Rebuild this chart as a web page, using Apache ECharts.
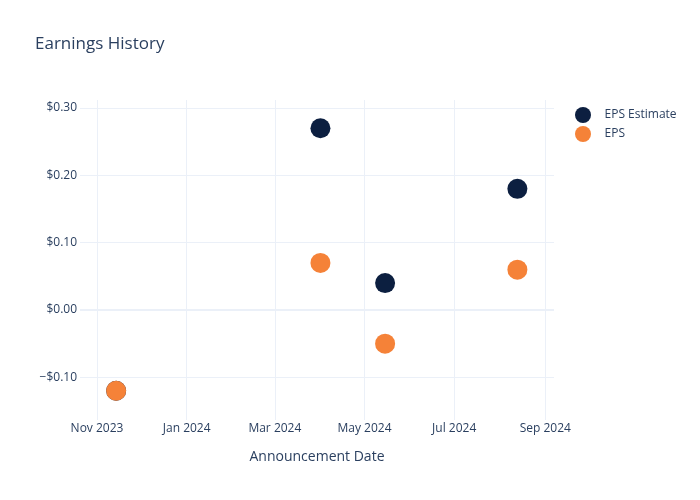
<!DOCTYPE html>
<html>
<head>
<meta charset="utf-8">
<script src="https://cdn.jsdelivr.net/npm/echarts@6/dist/echarts.min.js"></script>
<style>html,body{margin:0;padding:0;background:#fff}#c{width:700px;height:500px}</style>
</head>
<body>
<div id="c"></div>
<script>
var dates = ['2023-11-14', '2024-04-01', '2024-05-15', '2024-08-13'];
var epsEstimate = [-0.12, 0.27, 0.04, 0.18];
var epsActual = [-0.12, 0.07, -0.05, 0.06];
var xTickLabels = ['2023-11-01', '2024-01-01', '2024-03-01', '2024-05-01', '2024-07-01', '2024-09-01'];
var yTickLabels = [-0.1, 0, 0.1, 0.2, 0.3];
var xRange = ['2023-10-20T10:00', '2024-09-06T22:00'];
var yRange = [-0.1634, 0.312];

var MONTHS = ['Jan','Feb','Mar','Apr','May','Jun','Jul','Aug','Sep','Oct','Nov','Dec'];
function ts(s) { return new Date(s + (s.length === 10 ? 'T00:00:00' : '')).getTime(); }
var font = '"Open Sans", verdana, arial, sans-serif';
var textColor = '#2a3f5f';
var gridColor = '#EBF0F8';

var chart = echarts.init(document.getElementById('c'));
chart.setOption({
  animation: false,
  backgroundColor: '#fff',
  title: {
    text: 'Earnings History', left: 30, top: 31,
    textStyle: { fontFamily: font, fontSize: 17, fontWeight: 'normal', color: textColor }
  },
  legend: {
    orient: 'vertical', left: 570, top: 102, itemWidth: 21, itemHeight: 16, itemGap: 3,
    icon: 'circle',
    textStyle: { fontFamily: font, fontSize: 12, color: textColor, padding: [0, 0, 0, 6] },
    data: ['EPS Estimate', 'EPS']
  },
  grid: { left: 80, right: 146, top: 100, bottom: 80 },
  xAxis: {
    type: 'value',
    min: ts(xRange[0]), max: ts(xRange[1]),
    name: 'Announcement Date', nameLocation: 'middle', nameGap: 30,
    nameTextStyle: { fontFamily: font, fontSize: 14, color: textColor },
    axisLine: { show: false },
    axisTick: { show: false, customValues: xTickLabels.map(ts) },
    axisLabel: {
      customValues: xTickLabels.map(ts), margin: 3,
      fontFamily: font, fontSize: 12, color: textColor,
      formatter: function (v) { var d = new Date(v); return MONTHS[d.getMonth()] + ' ' + d.getFullYear(); }
    },
    splitLine: { show: true, lineStyle: { color: gridColor, width: 1 } }
  },
  yAxis: {
    type: 'value', min: yRange[0], max: yRange[1],
    axisLine: { show: false },
    axisTick: { show: false, customValues: yTickLabels },
    axisLabel: {
      customValues: yTickLabels, margin: 3,
      fontFamily: font, fontSize: 12, color: textColor,
      formatter: function (v) { return (v < 0 ? '\u2212$' : '$') + Math.abs(v).toFixed(2); }
    },
    splitLine: { show: true, lineStyle: { color: gridColor, width: 1 } }
  },
  series: [
    {
      name: 'EPS Estimate', type: 'scatter', symbolSize: 20,
      itemStyle: { color: '#0C1F40', opacity: 1 },
      data: dates.map(function (d, i) { return [ts(d), epsEstimate[i]]; }),
      markLine: {
        silent: true, symbol: 'none', label: { show: false },
        lineStyle: { color: gridColor, width: 2, type: 'solid' },
        data: [{ yAxis: 0 }], z: 0
      }
    },
    {
      name: 'EPS', type: 'scatter', symbolSize: 20,
      itemStyle: { color: '#F58238', opacity: 1 },
      data: dates.map(function (d, i) { return [ts(d), epsActual[i]]; })
    }
  ]
});
</script>
</body>
</html>
